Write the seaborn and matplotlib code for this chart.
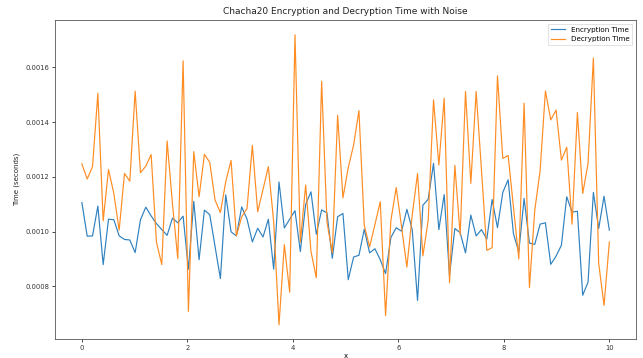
import numpy as np
import pandas as pd
import matplotlib
matplotlib.use("Agg")
import matplotlib.pyplot as plt
import seaborn as sns

x_values = np.linspace(0, 10, 100)

encryption_time = [
    0.001106, 0.000983, 0.000984, 0.001093, 0.000879, 0.001045, 0.001043, 0.000984, 0.000971, 0.000969,
    0.000923, 0.001043, 0.001089, 0.001057, 0.001029, 0.001007, 0.000986, 0.001049, 0.001032, 0.001056,
    0.000862, 0.001110, 0.000897, 0.001078, 0.001062, 0.000945, 0.000828, 0.001134, 0.000999, 0.000984,
    0.001090, 0.001045, 0.000962, 0.001012, 0.000980, 0.001045, 0.000862, 0.001181, 0.001013, 0.001045,
    0.001076, 0.000927, 0.001099, 0.001145, 0.000990, 0.001079, 0.001068, 0.000902, 0.001054, 0.001066,
    0.000824, 0.000907, 0.000913, 0.001008, 0.000922, 0.000937, 0.000897, 0.000846, 0.000978, 0.001014,
    0.001001, 0.001081, 0.001007, 0.000748, 0.001096, 0.001118, 0.001249, 0.001007, 0.001135, 0.000840,
    0.001011, 0.000996, 0.000922, 0.001060, 0.000984, 0.001007, 0.000972, 0.001117, 0.001014, 0.001143,
    0.001189, 0.000992, 0.000925, 0.001121, 0.000958, 0.000953, 0.001027, 0.001032, 0.000880, 0.000910,
    0.000950, 0.001127, 0.001071, 0.001074, 0.000767, 0.000815, 0.001143, 0.001011, 0.001129, 0.001005,
]

decryption_time = [
    0.001247, 0.001192, 0.001237, 0.001505, 0.001039, 0.001227, 0.001139, 0.001005, 0.001212, 0.001184,
    0.001513, 0.001215, 0.001239, 0.001281, 0.000961, 0.000879, 0.001331, 0.001102, 0.000901, 0.001624,
    0.000708, 0.001292, 0.001127, 0.001282, 0.001253, 0.001115, 0.001069, 0.001182, 0.001260, 0.000984,
    0.001054, 0.001084, 0.001315, 0.001072, 0.001154, 0.001237, 0.001035, 0.000659, 0.000952, 0.000778,
    0.001719, 0.000961, 0.001170, 0.000927, 0.000831, 0.001549, 0.001035, 0.000922, 0.001425, 0.001123,
    0.001234, 0.001316, 0.001442, 0.001023, 0.000944, 0.001025, 0.001109, 0.000693, 0.001041, 0.001161,
    0.001017, 0.000870, 0.001060, 0.001212, 0.000911, 0.001041, 0.001481, 0.001243, 0.001487, 0.000813,
    0.001242, 0.000987, 0.001512, 0.001176, 0.001512, 0.001224, 0.000931, 0.000941, 0.001569, 0.001267,
    0.001278, 0.001090, 0.000900, 0.001469, 0.000795, 0.001078, 0.001222, 0.001514, 0.001408, 0.001444,
    0.001261, 0.001308, 0.001027, 0.001435, 0.001139, 0.001249, 0.001634, 0.000883, 0.000730, 0.000962,
]

series_labels = ["Encryption Time", "Decryption Time"]
title_text = "Chacha20 Encryption and Decryption Time with Noise"
x_label = "x"
y_label = "Time (seconds)"

fig = plt.figure(figsize=(6.43, 3.58), dpi=100)
ax = fig.add_axes([0.0863, 0.0522, 0.9024, 0.8911])

df_enc = pd.DataFrame({"x": x_values, "t": encryption_time})
df_dec = pd.DataFrame({"x": x_values, "t": decryption_time})
sns.lineplot(data=df_enc, x="x", y="t", ax=ax, color="#2f81bf", linewidth=0.85,
             label=series_labels[0])
sns.lineplot(data=df_dec, x="x", y="t", ax=ax, color="#ff8c22", linewidth=0.85,
             label=series_labels[1])

ax.set_xticks([0, 2, 4, 6, 8, 10])
ax.set_yticks([0.0008, 0.0010, 0.0012, 0.0014, 0.0016])
ax.set_yticklabels(["0.0008", "0.0010", "0.0012", "0.0014", "0.0016"])
ax.tick_params(labelsize=4.9, length=2.2, width=0.5, pad=2.2, labelcolor="#333333")
ax.set_title(title_text, fontsize=6.5, pad=4.5, color="#222222")
ax.set_xlabel(x_label, fontsize=5.0, labelpad=0.8)
ax.set_ylabel(y_label, fontsize=5.0, labelpad=3.5, color="#222222")
for s in ax.spines.values():
    s.set_linewidth(0.6)
    s.set_color("#555555")
leg = ax.legend(loc="upper right", fontsize=5.1, frameon=True, fancybox=False,
                handlelength=2.0, borderpad=0.4)
leg.get_frame().set_linewidth(0.5)

fig.savefig("out.png", dpi=100)
